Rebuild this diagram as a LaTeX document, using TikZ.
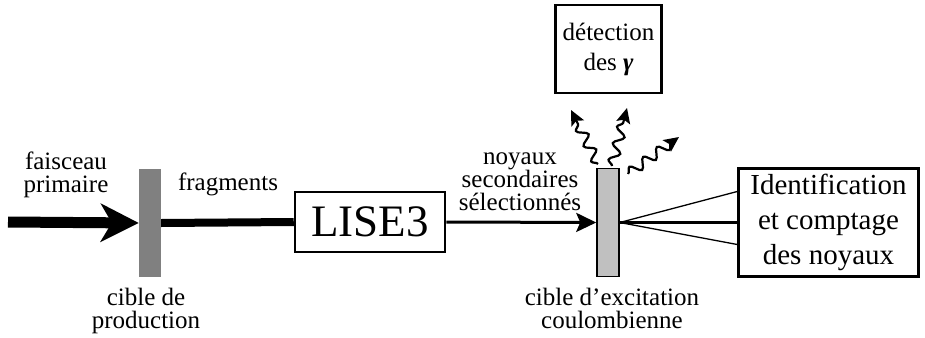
\documentclass[tikz,border=0pt]{standalone}
\usepackage{fontspec}
\setmainfont{Liberation Serif}
\usetikzlibrary{arrows.meta,decorations.pathmorphing}
\begin{document}
\begin{tikzpicture}[x=1pt,y=-1pt,
  lbl/.style={font=\fontsize{25}{23}\selectfont, align=center, inner sep=0pt},
  boxa/.style={draw, line width=2.5pt, inner sep=0pt, align=center},
  wave/.style={line width=2.2pt, decorate, decoration={snake, amplitude=5pt, segment length=17pt, post length=8pt},
    -{Stealth[length=15pt,width=14pt,inset=3pt]}}]
\useasboundingbox (0,0) rectangle (925,337);
% targets
\node[fill={rgb,255:red,128;green,128;blue,128}, minimum width=22pt, minimum height=108pt, inner sep=0pt] (t1) at (150,223) {};
\node[fill={rgb,255:red,192;green,192;blue,192}, draw, line width=1.5pt, minimum width=22pt, minimum height=108pt, inner sep=0pt] (t2) at (608,222.5) {};
% boxes
\node[boxa, minimum width=150pt, minimum height=60pt, font=\fontsize{45}{45}\selectfont] (lise) at (370,222) {LISE3};
\node[boxa, minimum width=180pt, minimum height=108pt, font=\fontsize{29}{35}\selectfont] (id) at (828.5,222.5) {Identification\\et comptage\\des noyaux};
\node[boxa, minimum width=106pt, minimum height=88pt, font=\fontsize{25}{30}\selectfont] (det) at (608.5,49) {détection\\des \textbf{\textit{γ}}};
% beam
\coordinate (beam) at (8,222);
\draw[line width=11pt, -{Stealth[length=38pt,width=38pt,inset=11pt]}] (beam) -- (t1.west);
\draw[line width=8pt] (t1.east) -- (lise.west);
\draw[line width=3pt, -{Stealth[length=20pt,width=19pt,inset=4pt]}] (lise.east) -- (t2.west);
% fan
\draw[line width=1.3pt] (t2.east) -- ([yshift=31pt]id.west);
\draw[line width=2.5pt] (t2.east) -- (id.west);
\draw[line width=1.3pt] (t2.east) -- ([yshift=-22pt]id.west);
% gamma rays
\coordinate (g1s) at (598,164);
\coordinate (g1e) at (571,110);
\coordinate (g2s) at (612,166);
\coordinate (g2e) at (627,108);
\coordinate (g3s) at (628,174);
\coordinate (g3e) at (679,137);
\draw[wave] (g1s) -- (g1e);
\draw[wave] (g2s) -- (g2e);
\draw[wave] (g3s) -- (g3e);
% labels
\node[lbl] (l1) at (66,175) {faisceau\\primaire};
\node[lbl] (l2) at (228,184) {fragments};
\node[lbl] (l3) at (146,311) {cible de\\production};
\node[lbl] (l4) at (520,182) {noyaux\\secondaires\\sélectionnés};
\node[lbl] (l5) at (612,308) {cible d’excitation\\coulombienne};
\end{tikzpicture}
\end{document}
